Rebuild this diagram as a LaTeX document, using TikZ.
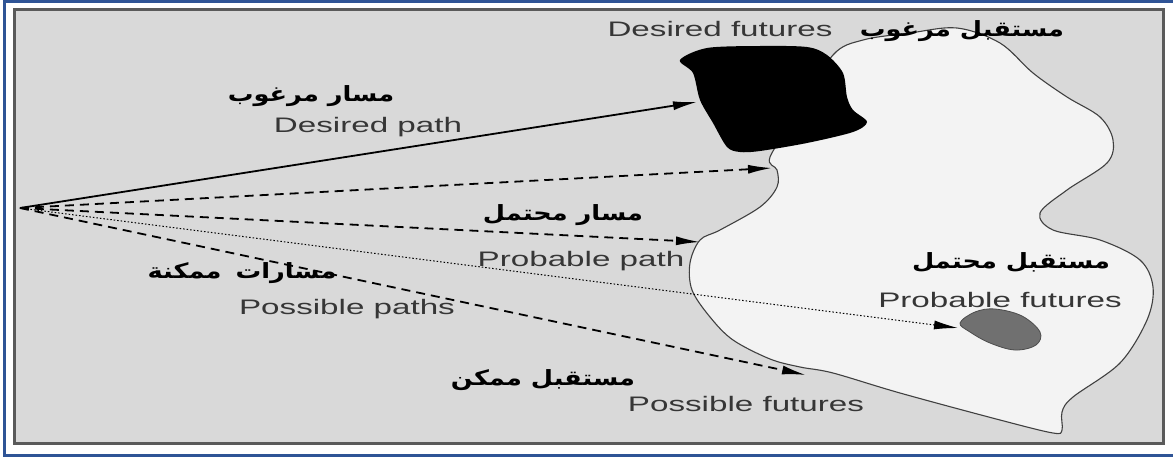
\documentclass[tikz,border=0pt]{standalone}
\usepackage{fontspec}
\setmainfont{Liberation Sans}
\newfontfamily\lab[FakeStretch=1.58]{Liberation Sans}
\newfontfamily\arabicfont[Script=Arabic,FakeStretch=1.22]{DejaVu Sans}
\TeXXeTstate=1
\usetikzlibrary{arrows.meta}
\definecolor{framegray}{HTML}{5A5A5A}
\definecolor{bggray}{HTML}{D9D9D9}
\definecolor{regionwhite}{HTML}{F3F3F3}
\definecolor{engray}{HTML}{363636}
\definecolor{blobgray}{HTML}{707070}
\definecolor{outerblue}{HTML}{2F5496}
\begin{document}
\begin{tikzpicture}[x=1pt,y=-1pt,
  en/.style={font=\lab\fontsize{21}{21}\selectfont, text=engray, inner sep=0pt},
  ar/.style={font=\arabicfont\bfseries\fontsize{21}{21}\selectfont, text=black, inner sep=0pt},
  headtip/.style={-{Latex[length=24pt,width=9pt]}},
  solidpath/.style={headtip, line width=1.8pt},
  dashedpath/.style={headtip, line width=1.8pt, dash pattern=on 9pt off 6pt},
  dottedpath/.style={headtip, line width=1pt, dash pattern=on 1.5pt off 2pt},
]
\useasboundingbox (0,0) rectangle (1173,458);
\fill[white] (0,0) rectangle (1173,458);
% outer blue frame (left, top, bottom)
\draw[outerblue, line width=2.8pt] (1173,1.4) -- (4.5,1.4) -- (4.5,455.6) -- (1173,455.6);
% inner frame
\draw[framegray, line width=3pt, fill=bggray] (14,9.5) rectangle (1163.5,443);

% region of possible futures
\draw[fill=regionwhite, draw=black!75, line width=1.1pt]
  plot[smooth cycle, tension=0.55] coordinates {
   (770,157) (800,110) (833,55) (863,40) (910,33) (957,28) (1000,43)
   (1033,73) (1067,97) (1100,117) (1113,140) (1107,163) (1067,190)
   (1040,213) (1053,230) (1100,240) (1140,260) (1153,287) (1147,320)
   (1120,363) (1073,397) (1062,412) (1062,430) (1053,433) (1000,420)
   (900,393) (833,373) (800,367) (770,359) (733,340) (710,317)
   (692,290) (690,263) (700,240) (720,230) (760,207) (777,187) (777,170)};

% desired futures (black)
\fill[black]
  plot[smooth cycle, tension=0.5] coordinates {
   (680,60) (707,48) (760,46) (807,47) (827,55) (843,73) (847,97)
   (853,110) (867,122) (853,132) (807,143) (760,151) (740,152)
   (727,147) (713,123) (700,100) (693,73)};

% probable futures (gray)
\draw[fill=blobgray, draw=black!70, line width=0.8pt]
  plot[smooth cycle, tension=0.6] coordinates {
   (960,323) (975,312) (995,309) (1022,316) (1040,332) (1036,345)
   (1015,350) (990,343) (970,332)};

% connectors
\coordinate (src) at (20,208);
\coordinate (tdes) at (697,102);
\coordinate (tmid) at (772,168);
\coordinate (tprobpath) at (700,242);
\coordinate (tprobfut) at (958,328);
\coordinate (tposs) at (806,375);
\draw[solidpath] (src) -- (tdes);
\draw[dashedpath] (src) -- (tmid);
\draw[dashedpath] (src) -- (tprobpath);
\draw[dottedpath] (src) -- (tprobfut);
\draw[dashedpath] (src) -- (tposs);

% labels
\node[en] (desfut) at (720,29) {Desired futures};
\node[ar] (desfutar) at (962,31) {\beginR مستقبل مرغوب\endR};
\node[ar] (despathar) at (311,96) {\beginR مسار مرغوب\endR};
\node[en] (despath) at (368,127) {Desired path};
\node[ar] (probpathar) at (563,215) {\beginR مسار محتمل\endR};
\node[en] (probpath) at (581,261) {Probable path};
\node[ar] (probfutar) at (1011,262) {\beginR مستقبل محتمل\endR};
\node[en] (probfut) at (1000,300) {Probable futures};
\node[ar] (posspathar) at (242,273) {\beginR مسارات\hspace{14pt}ممكنة\endR};
\node[en] (posspath) at (347,309) {Possible paths};
\node[ar] (possfutar) at (543,380) {\beginR مستقبل ممكن\endR};
\node[en] (possfut) at (746,404) {Possible futures};
\end{tikzpicture}
\end{document}
